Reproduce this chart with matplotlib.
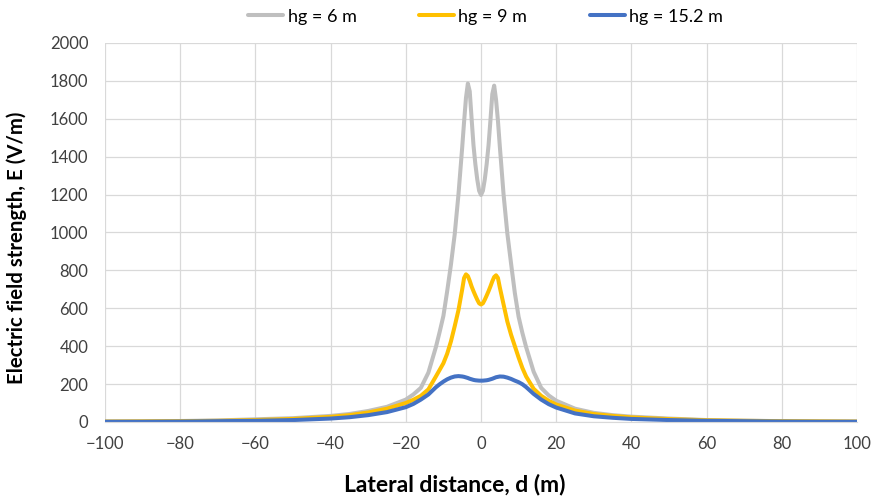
import matplotlib.pyplot as plt

# lateral distance (m)
d = [-100, -90, -80, -70, -60, -50, -40, -35, -30, -25,
     -20, -18, -16, -14, -12, -11, -10, -9, -8, -7, -6, -5,
     -4.5, -4, -3.5, -3, -2.5, -2, -1.5, -1, -0.5,
     0,
     0.5, 1, 1.5, 2, 2.5, 3, 3.5, 4, 4.5,
     5, 6, 7, 8, 9, 10, 11, 12, 14, 16, 18, 20,
     25, 30, 35, 40, 50, 60, 70, 80, 90, 100]

# electric field strength (V/m) for each conductor height
e_6 = [2, 3, 5, 8, 14, 20, 32, 42, 58, 80,
       118, 145, 180, 260, 395, 475, 560, 690, 830, 990, 1200, 1450,
       1585, 1710, 1786, 1745, 1600, 1460, 1360, 1280, 1220,
       1198,
       1220, 1280, 1360, 1460, 1590, 1730, 1775, 1700, 1590,
       1455, 1200, 995, 835, 680, 555, 470, 395, 265, 180, 140, 112,
       70, 48, 36, 28, 18, 10, 7, 4, 3, 2]

e_9 = [2, 3, 4, 6, 10, 16, 27, 36, 50, 70,
       100, 117, 138, 172, 240, 275, 310, 360, 425, 505, 590, 700,
       760, 779, 770, 745, 715, 690, 667, 645, 626,
       620,
       626, 645, 667, 690, 715, 742, 765, 774, 760,
       710, 620, 530, 460, 400, 340, 285, 240, 175, 138, 112, 92,
       60, 42, 32, 24, 15, 9, 6, 4, 3, 2]

e_15 = [1, 1, 2, 4, 6, 10, 18, 25, 36, 52,
        78, 95, 118, 145, 183, 199, 213, 225, 234, 240, 242, 240,
        238, 235, 232, 228, 225, 222, 220, 219, 218,
        218,
        218, 219, 220, 222, 225, 228, 232, 236, 238,
        240, 239, 234, 227, 218, 210, 199, 184, 148, 118, 94, 76,
        45, 30, 22, 16, 10, 6, 4, 2, 1, 1]

labels = ["hg = 6 m", "hg = 9 m", "hg = 15.2 m"]
colors = ["#BFBFBF", "#FFC000", "#4472C4"]

plt.rcParams["font.family"] = ["Lato", "DejaVu Sans"]

fig = plt.figure(figsize=(8.78, 4.97), dpi=100)
ax = fig.add_axes([0.1196, 0.151, 0.8565, 0.7625])

for e, lab, c in zip([e_6, e_9, e_15], labels, colors):
    ax.plot(d, e, color=c, lw=2.9, label=lab, solid_capstyle="round")

ax.set_xlim(-100, 100)
ax.set_ylim(0, 2000)
ax.set_xticks(range(-100, 101, 20))
ax.set_yticks(range(0, 2001, 200))
ax.grid(True, color="#D9D9D9", lw=0.9)
ax.set_axisbelow(True)
for s in ["top", "right", "left"]:
    ax.spines[s].set_visible(False)
ax.spines["bottom"].set_color("#D9D9D9")
ax.tick_params(length=0, labelsize=12, colors="#404040")
ax.tick_params(axis="y", pad=12)
ax.tick_params(axis="x", pad=10)

ax.set_xlabel("Lateral distance, d (m)", fontsize=16.5, fontweight="bold", va="center")
ax.xaxis.set_label_coords(0.465, -0.166)
ax.set_ylabel("Electric field strength, E (V/m)", fontsize=14.7, fontweight="bold", va="center")
ax.yaxis.set_label_coords(-0.118, 0.459)

fig.legend(loc="upper center", bbox_to_anchor=(0.553, 1.015), ncol=3, frameon=False,
           fontsize=13, handlelength=1.95, columnspacing=3.45, handletextpad=0.25)

fig.savefig("out.png", dpi=100)
